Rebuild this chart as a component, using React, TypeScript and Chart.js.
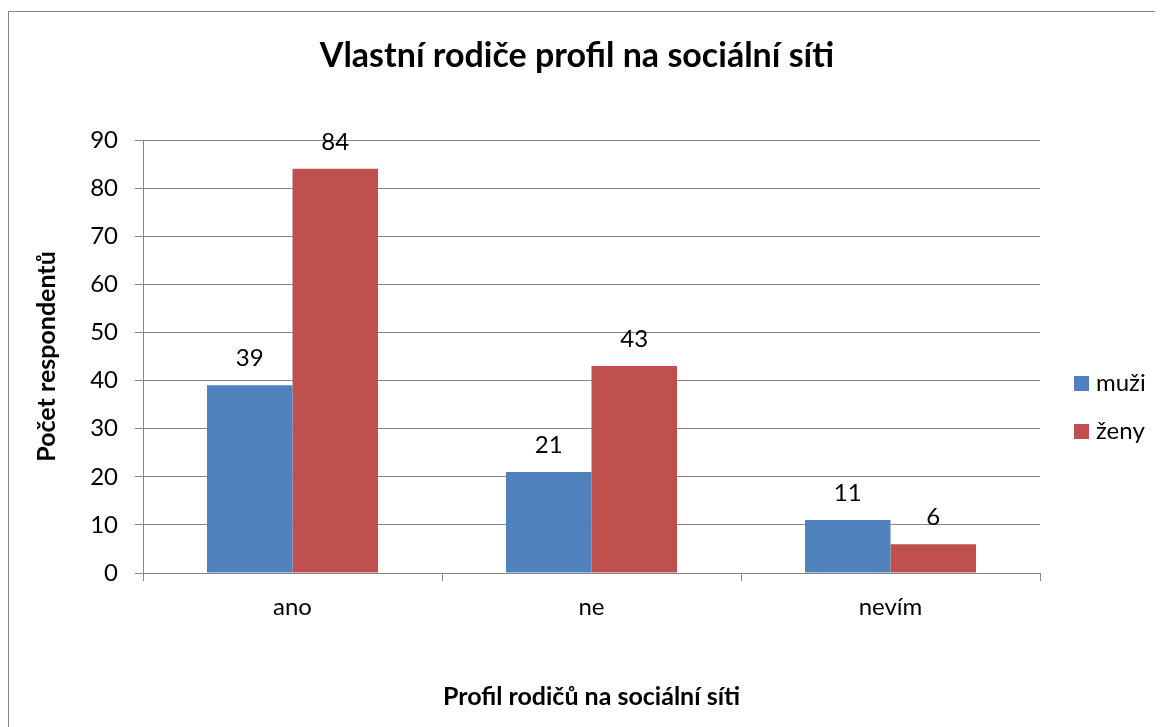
import React, { useEffect, useRef } from "react";
import { Chart, registerables } from "chart.js";

Chart.register(...registerables);

const categories = ["ano", "ne", "nevím"];
const seriesNames = ["muži", "ženy"];
const muziValues = [39, 21, 11];
const zenyValues = [84, 43, 6];
const seriesColors = ["#4F81BD", "#C0504D"];
const yTicks = [0, 10, 20, 30, 40, 50, 60, 70, 80, 90];
const chartTitle = "Vlastní rodiče profil na sociální síti";
const xTitle = "Profil rodičů na sociální síti";
const yTitle = "Počet respondentů";

const FONT = "Lato, 'Open Sans', sans-serif";
const GRID = "#868686";

const decorPlugin = {
  id: "decor",
  beforeDraw(chart: any) {
    const ctx = chart.ctx;
    ctx.save();
    ctx.fillStyle = "#ffffff";
    ctx.fillRect(0, 0, chart.width, chart.height);
    ctx.strokeStyle = GRID;
    ctx.lineWidth = 1;
    ctx.strokeRect(0.5, 3.5, chart.width + 40, chart.height + 40);
    ctx.restore();
  },
  afterDraw(chart: any) {
    const ctx = chart.ctx;
    ctx.save();
    // title
    ctx.fillStyle = "#000000";
    ctx.font = `bold 34px ${FONT}`;
    ctx.textAlign = "center";
    ctx.textBaseline = "middle";
    ctx.fillText(chartTitle, 569, 48);
    // legend
    ctx.font = `24px ${FONT}`;
    ctx.textAlign = "left";
    chart.data.datasets.forEach((ds: any, i: number) => {
      const cy = 375.5 + i * 48;
      ctx.fillStyle = ds.backgroundColor;
      ctx.fillRect(1066, cy - 7.5, 15, 15);
      ctx.fillStyle = "#000000";
      ctx.fillText(ds.label, 1088, cy);
    });
    // data labels
    ctx.textAlign = "center";
    chart.data.datasets.forEach((ds: any, i: number) => {
      const meta = chart.getDatasetMeta(i);
      meta.data.forEach((el: any, j: number) => {
        ctx.fillText(String(ds.data[j]), el.x, el.y - 27);
      });
    });
    ctx.restore();
  },
};

export default function App() {
  const ref = useRef<HTMLCanvasElement>(null);
  useEffect(() => {
    if (!ref.current) return;
    const chart = new Chart(ref.current, {
      type: "bar",
      data: {
        labels: categories,
        datasets: [
          { label: seriesNames[0], data: muziValues, backgroundColor: seriesColors[0] },
          { label: seriesNames[1], data: zenyValues, backgroundColor: seriesColors[1] },
        ],
      },
      options: {
        animation: false,
        responsive: false,
        layout: { padding: { left: 20, right: 123, top: 132, bottom: 0 } },
        datasets: { bar: { barPercentage: 1, categoryPercentage: 0.572 } },
        plugins: {
          legend: { display: false },
          title: { display: false },
          tooltip: { enabled: false },
        },
        scales: {
          x: {
            afterFit: (s: any) => { s.height = 154; },
            grid: { drawOnChartArea: false, drawTicks: true, tickLength: 8, color: GRID },
            border: { display: true, color: GRID },
            ticks: { color: "#000", font: { family: FONT, size: 24 }, padding: 12 },
            title: {
              display: true,
              text: xTitle,
              color: "#000",
              font: { family: FONT, size: 25, weight: "bold" },
              padding: { top: 0, bottom: 15 },
            },
          },
          y: {
            min: 0,
            max: 90,
            afterFit: (s: any) => { s.width = 115; },
            afterBuildTicks: (s: any) => { s.ticks = yTicks.map((v) => ({ value: v })); },
            grid: { color: GRID, drawTicks: true, tickLength: 8 },
            border: { display: true, color: GRID },
            ticks: { color: "#000", font: { family: FONT, size: 24 }, padding: 17 },
            title: {
              display: true,
              text: yTitle,
              color: "#000",
              font: { family: FONT, size: 25, weight: "bold" },
              padding: { top: 4, bottom: 0 },
            },
          },
        },
      },
      plugins: [decorPlugin],
    });
    return () => chart.destroy();
  }, []);
  return <canvas ref={ref} width={1155} height={719} style={{ display: "block" }} />;
}
